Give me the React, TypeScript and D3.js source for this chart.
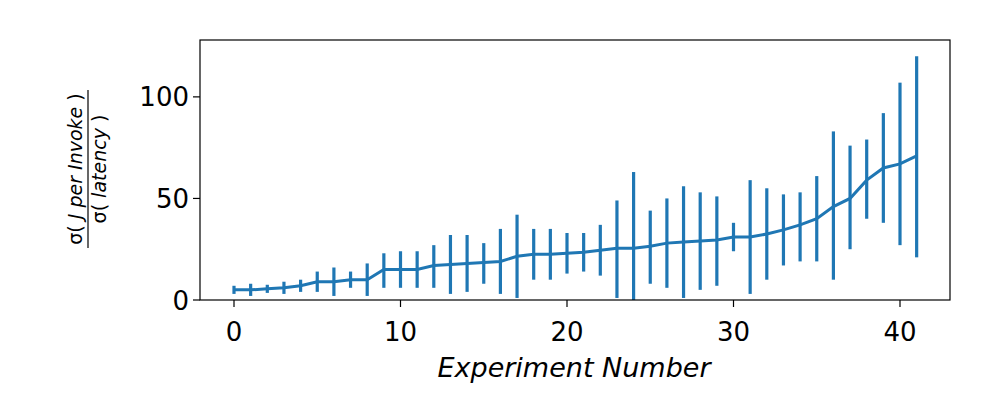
import React from "react";
import * as d3 from "d3";

const xs = d3.range(42);
const means = [5,5,5.5,6,7,9,9,10,10,15,15,15,17,17.5,18,18.5,19,21.5,22.5,22.5,23,23.5,24.5,25.5,25.5,26.5,28,28.5,29,29.5,31,31,32.5,34.5,37,40,46,50,59,65,67,71];
const lows = [3,2,3.5,3,4,4,2,6,2,6,6,6,6,3,4,8,3,1,10,10,13,14,12,1,0,8,6,1,5,7,24,3,10,17,19,19,10,25,40,38,27,21];
const highs = [7,8,7.5,9,10,14,16,14,18,23,24,24,27,32,32,28,35,42,35,35,33,33,37,49,63,44,50,56,53,51,38,59,55,52,53,61,83,76,79,92,107,120];
const xTicks = [0,10,20,30,40];
const yTicks = [0,50,100];

export default function App() {
  const W = 1000, H = 400, L = 200, R = 950, T = 40, B = 300;
  const x = d3.scaleLinear().domain([0, 40]).range([234, 900]);
  const y = d3.scaleLinear().domain([0, 128]).range([B, T]);
  const line = d3.line<number>().x((_, i) => x(xs[i])).y(d => y(d));
  const c = "#1f77b4";
  const f = "DejaVu Sans, sans-serif";
  return (
    <svg width={W} height={H} style={{ position: "absolute", left: 0, top: 0 }} fontFamily={f}>
      <rect width={W} height={H} fill="#fff" />
      {xs.map(i => (
        <line key={i} x1={x(i)} x2={x(i)} y1={y(lows[i])} y2={y(highs[i])} stroke={c} strokeWidth={3.2} />
      ))}
      <path d={line(means) || ""} fill="none" stroke={c} strokeWidth={3} />
      <rect x={L} y={T} width={R - L} height={B - T} fill="none" stroke="#000" strokeWidth={1.2} />
      {xTicks.map(t => (
        <g key={t}>
          <line x1={x(t)} x2={x(t)} y1={B} y2={B + 7} stroke="#000" strokeWidth={1.2} />
          <text x={x(t)} y={341} textAnchor="middle" fontSize={26}>{t}</text>
        </g>
      ))}
      {yTicks.map(t => (
        <g key={t}>
          <line x1={L - 7} x2={L} y1={y(t)} y2={y(t)} stroke="#000" strokeWidth={1.2} />
          <text x={L - 11} y={y(t) + 9.5} textAnchor="end" fontSize={26}>{t}</text>
        </g>
      ))}
      <text x={(L + R) / 2 - 1} y={377} textAnchor="middle" fontSize={27} fontStyle="italic">Experiment Number</text>
      <g transform="translate(88,169) rotate(-90)">
        <text x={0} y={-6} textAnchor="middle" fontSize={19}>σ( <tspan fontStyle="italic">J per Invoke</tspan> )</text>
        <line x1={-79} x2={79} y1={0} y2={0} stroke="#000" strokeWidth={1.2} />
        <text x={0} y={18} textAnchor="middle" fontSize={19}>σ( <tspan fontStyle="italic">latency</tspan> )</text>
      </g>
    </svg>
  );
}
